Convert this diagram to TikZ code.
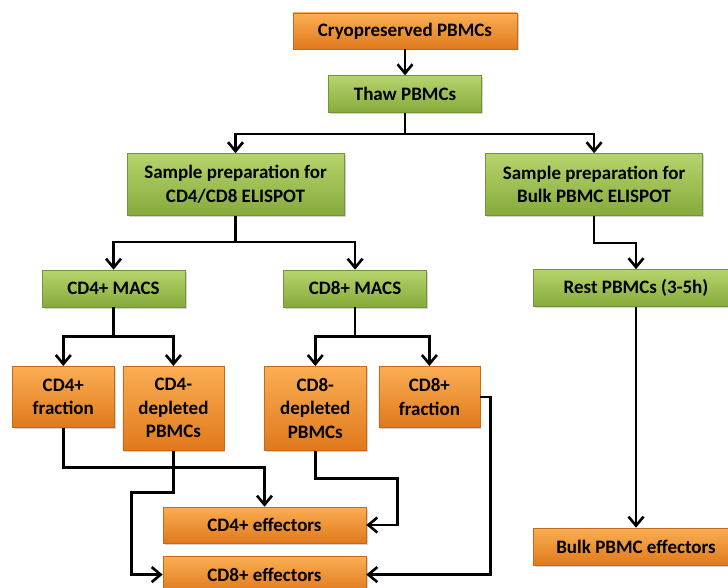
\documentclass[tikz,border=0pt]{standalone}
\usepackage{fontspec}
\setmainfont{Carlito}
\usetikzlibrary{arrows.meta, positioning, shadows}

\definecolor{orangeTop}{HTML}{FBAE54}
\definecolor{orangeBot}{HTML}{E0791C}
\definecolor{orangeLine}{HTML}{C8691A}
\definecolor{greenTop}{HTML}{B6D46C}
\definecolor{greenBot}{HTML}{86AA3C}
\definecolor{greenLine}{HTML}{74943A}

\begin{document}
\begin{tikzpicture}[
    x=1pt, y=-1pt,
    box/.style={rectangle, align=center, inner sep=0pt, line width=0.6pt,
                font=\bfseries\fontsize{19}{23.5}\selectfont,
                drop shadow={shadow xshift=1.5pt, shadow yshift=-1.5pt, opacity=0.35}},
    orangebox/.style={box, draw=orangeLine, top color=orangeTop, bottom color=orangeBot},
    greenbox/.style={box, draw=greenLine, top color=greenTop, bottom color=greenBot},
    arrow/.style={-{Straight Barb[length=9pt, width=15pt]}, line width=2.6pt}
]
\useasboundingbox (0,0) rectangle (728,588);

% Top part
\node[orangebox, minimum width=224pt, minimum height=36pt] (cryo) at (405,31) {Cryopreserved PBMCs};
\node[greenbox, minimum width=153pt, minimum height=37pt, below=26pt of cryo] (thaw) {Thaw PBMCs};
\node[greenbox, minimum width=217pt, minimum height=62pt] (prepCD) at (235.5,184.5) {Sample preparation for\\CD4/CD8 ELISPOT};
\node[greenbox, minimum width=217pt, minimum height=62pt, right=141pt of prepCD] (prepBulk) {Sample preparation for\\Bulk PBMC ELISPOT};

\draw[arrow] (cryo.south -| thaw) -- (thaw.north);
\draw[arrow] (thaw.south) -- ++(0,21) -| (prepCD.north);
\draw[arrow] (thaw.south) -- ++(0,21) -| (prepBulk.north);

% MACS part
\node[greenbox, minimum width=143pt, minimum height=37pt] (macsCD4) at (113.5,288.5) {CD4+ MACS};
\node[greenbox, minimum width=143pt, minimum height=37pt, right=98pt of macsCD4] (macsCD8) {CD8+ MACS};
\node[greenbox, minimum width=206pt, minimum height=37pt] (rest) at (636,288) {Rest PBMCs (3-5h)};

\draw[arrow] (prepCD.south) -- ++(0,26) -| (macsCD4.north);
\draw[arrow] (prepCD.south) -- ++(0,26) -| (macsCD8.north);
\draw[arrow] (prepBulk.south) -- ++(0,27) -| (rest.north);

% Fractions
\node[orangebox, minimum width=102pt, minimum height=61pt, anchor=north west] (fracCD4) at (12,366) {CD4+\\fraction};
\node[orangebox, minimum width=101pt, minimum height=84pt, right=8pt of fracCD4.north east, anchor=north west] (deplCD4) {CD4-\\depleted\\PBMCs};
\node[orangebox, minimum width=102pt, minimum height=84pt, anchor=north west] (deplCD8) at (264,366) {CD8-\\depleted\\PBMCs};
\node[orangebox, minimum width=101pt, minimum height=61pt, right=12pt of deplCD8.north east, anchor=north west] (fracCD8) {CD8+\\fraction};

\draw[arrow] (macsCD4.south) -- ++(0,29) -| (fracCD4.north);
\draw[arrow] (macsCD4.south) -- ++(0,29) -| (deplCD4.north);
\draw[arrow] (macsCD8.south) -- ++(0,29) -| (deplCD8.north);
\draw[arrow] (macsCD8.south) -- ++(0,29) -| (fracCD8.north);

% Effectors
\node[orangebox, minimum width=203pt, minimum height=36pt] (effCD4) at (264.5,525) {CD4+ effectors};
\node[orangebox, minimum width=203pt, minimum height=36pt, below=13pt of effCD4] (effCD8) {CD8+ effectors};
\node[orangebox, minimum width=206pt, minimum height=37pt] (effBulk) at (636,546.5) {Bulk PBMC effectors};

\draw[arrow] (fracCD4.south) -- ++(0,40) -| (effCD4.north);
\draw[arrow] (deplCD4.south) -- ++(0,42) -| ([xshift=-31pt]effCD8.west) -- (effCD8.west);
\draw[arrow] (deplCD8.south) -- ++(0,28) -| ([xshift=31pt]effCD4.east) -- (effCD4.east);
\draw[arrow] (fracCD8.east) -- ++(10,0) |- (effCD8.east);
\draw[arrow] (rest.south) -- (effBulk.north);

\end{tikzpicture}
\end{document}
